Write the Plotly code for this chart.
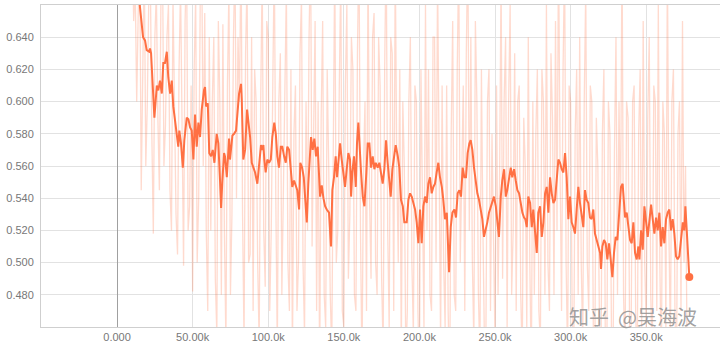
import plotly.graph_objects as go

# smoothed curve: steps in thousands, values
smooth_steps = [
    10.0, 11.2, 12.4, 13.5, 14.6, 15.7, 17.2, 18.5, 19.6, 21.2,
    21.8, 22.5, 24.0, 24.7, 26.3, 27.3, 28.4, 29.6, 30.6, 31.7,
    32.9, 33.9, 35.1, 36.2, 37.2, 38.4, 39.5, 40.5, 41.2, 42.3,
    43.5, 44.5, 46.1, 47.2, 48.3, 49.4, 50.5, 51.6, 52.7, 53.8,
    54.9, 56.0, 57.5, 58.2, 58.9, 60.0, 61.0, 62.2, 63.3, 64.4,
    65.9, 67.0, 68.1, 68.8, 69.6, 70.8, 71.4, 72.6, 74.1, 74.7,
    76.3, 77.4, 78.7, 79.8, 80.7, 82.0, 82.5, 83.5, 84.7, 86.0,
    86.8, 88.0, 89.1, 90.1, 91.3, 92.8, 94.1, 95.2, 96.1, 96.8,
    97.4, 98.3, 99.4, 100.5, 101.7, 102.7, 104.0, 105.0, 106.0, 107.1,
    108.3, 109.3, 110.5, 111.6, 112.6, 113.8, 114.9, 115.9, 117.1, 118.2,
    119.2, 120.4, 121.2, 122.4, 123.5, 124.5, 125.5, 126.5, 127.4, 128.3,
    129.4, 130.5, 131.6, 132.7, 134.3, 135.4, 136.5, 137.6, 138.7, 140.2,
    141.5, 142.4, 143.5, 144.6, 145.5, 146.4, 147.5, 148.6, 149.7, 150.8,
    151.9, 153.0, 154.1, 154.8, 155.6, 156.7, 157.9, 158.7, 159.6, 160.3,
    161.4, 162.5, 163.6, 164.9, 165.8, 166.9, 168.0, 169.1, 170.2, 171.1,
    172.4, 173.5, 174.6, 175.7, 176.8, 177.9, 179.0, 180.1, 181.0, 182.1,
    183.2, 184.3, 185.7, 186.7, 187.8, 189.0, 190.0, 191.6, 192.7, 193.8,
    194.9, 196.0, 197.1, 198.2, 199.3, 200.4, 201.5, 202.6, 203.7, 204.8,
    205.9, 207.0, 208.1, 209.2, 210.3, 211.4, 212.5, 213.6, 214.8, 215.8,
    216.9, 218.1, 219.1, 219.6, 220.7, 221.8, 223.1, 224.2, 225.3, 226.4,
    227.5, 228.6, 229.7, 230.8, 231.9, 233.0, 233.9, 235.0, 236.1, 237.2,
    238.3, 239.4, 240.5, 241.6, 242.7, 243.9, 244.9, 246.0, 247.2, 248.2,
    249.3, 250.5, 251.5, 252.6, 253.8, 254.8, 256.0, 257.1, 258.1, 259.3,
    260.4, 261.4, 262.6, 263.7, 264.8, 265.9, 267.0, 268.1, 269.2, 270.0,
    271.0, 272.0, 273.2, 274.3, 275.3, 276.5, 277.6, 278.6, 279.8, 280.9,
    282.0, 283.1, 284.2, 285.3, 286.4, 287.5, 288.6, 289.7, 290.8, 291.9,
    293.0, 294.1, 295.2, 296.3, 297.4, 298.5, 299.6, 300.7, 301.8, 302.9,
    304.0, 305.1, 306.2, 307.3, 308.4, 309.5, 310.6, 311.7, 312.8, 313.9,
    315.0, 316.1, 317.3, 318.3, 319.5, 320.1, 321.0, 322.1, 323.2, 324.3,
    325.4, 326.5, 327.6, 328.7, 329.8, 330.9, 332.0, 333.3, 334.4, 335.2,
    336.0, 337.1, 338.2, 339.3, 340.4, 341.5, 342.6, 343.7, 344.8, 345.5,
    346.6, 347.7, 348.8, 349.9, 351.0, 352.0, 353.2, 354.3, 355.4, 356.5,
    357.6, 358.7, 359.8, 360.9, 362.0, 363.1, 364.2, 365.3, 366.4, 367.5,
    368.6, 369.7, 370.8, 371.9, 373.0, 374.2, 375.2, 375.9, 376.8, 377.5,
    378.5,
]
smooth_values = [
    0.705, 0.690, 0.682, 0.674, 0.664, 0.658, 0.640, 0.638, 0.632, 0.631,
    0.633, 0.630, 0.601, 0.590, 0.610, 0.607, 0.613, 0.605, 0.624, 0.624,
    0.631, 0.615, 0.605, 0.613, 0.597, 0.587, 0.582, 0.572, 0.582, 0.574,
    0.559, 0.576, 0.590, 0.589, 0.584, 0.582, 0.564, 0.592, 0.572, 0.587,
    0.578, 0.595, 0.607, 0.609, 0.597, 0.599, 0.568, 0.566, 0.570, 0.562,
    0.580, 0.574, 0.551, 0.534, 0.550, 0.568, 0.566, 0.553, 0.577, 0.564,
    0.579, 0.580, 0.582, 0.593, 0.605, 0.611, 0.601, 0.564, 0.570, 0.595,
    0.589, 0.578, 0.562, 0.559, 0.556, 0.549, 0.562, 0.573, 0.570, 0.573,
    0.564, 0.556, 0.564, 0.562, 0.564, 0.578, 0.587, 0.580, 0.566, 0.559,
    0.572, 0.572, 0.566, 0.562, 0.572, 0.570, 0.558, 0.547, 0.551, 0.547,
    0.545, 0.533, 0.562, 0.559, 0.553, 0.539, 0.525, 0.549, 0.566, 0.578,
    0.570, 0.577, 0.566, 0.572, 0.541, 0.548, 0.540, 0.535, 0.533, 0.531,
    0.510, 0.545, 0.553, 0.566, 0.553, 0.564, 0.574, 0.564, 0.556, 0.547,
    0.558, 0.568, 0.564, 0.541, 0.556, 0.566, 0.547, 0.574, 0.587, 0.572,
    0.556, 0.541, 0.535, 0.556, 0.574, 0.574, 0.559, 0.566, 0.558, 0.562,
    0.559, 0.562, 0.556, 0.549, 0.558, 0.576, 0.562, 0.551, 0.541, 0.558,
    0.566, 0.573, 0.566, 0.559, 0.539, 0.535, 0.525, 0.525, 0.539, 0.543,
    0.541, 0.537, 0.533, 0.525, 0.512, 0.533, 0.512, 0.535, 0.541, 0.537,
    0.549, 0.553, 0.543, 0.547, 0.549, 0.556, 0.562, 0.553, 0.547, 0.539,
    0.527, 0.531, 0.510, 0.494, 0.522, 0.531, 0.533, 0.528, 0.543, 0.545,
    0.541, 0.559, 0.553, 0.553, 0.568, 0.574, 0.576, 0.570, 0.559, 0.551,
    0.543, 0.539, 0.533, 0.527, 0.516, 0.520, 0.525, 0.531, 0.535, 0.539,
    0.541, 0.535, 0.527, 0.516, 0.541, 0.551, 0.558, 0.541, 0.545, 0.553,
    0.559, 0.553, 0.558, 0.551, 0.545, 0.543, 0.537, 0.531, 0.528, 0.527,
    0.522, 0.541, 0.537, 0.522, 0.533, 0.518, 0.506, 0.531, 0.535, 0.516,
    0.525, 0.543, 0.547, 0.531, 0.553, 0.543, 0.537, 0.539, 0.551, 0.564,
    0.562, 0.558, 0.556, 0.568, 0.553, 0.527, 0.541, 0.525, 0.522, 0.518,
    0.533, 0.547, 0.537, 0.528, 0.522, 0.545, 0.539, 0.537, 0.528, 0.527,
    0.533, 0.518, 0.514, 0.510, 0.506, 0.496, 0.510, 0.514, 0.512, 0.502,
    0.512, 0.502, 0.491, 0.506, 0.516, 0.514, 0.528, 0.547, 0.549, 0.539,
    0.528, 0.531, 0.520, 0.514, 0.512, 0.525, 0.506, 0.502, 0.510, 0.502,
    0.520, 0.508, 0.535, 0.527, 0.516, 0.525, 0.536, 0.527, 0.518, 0.528,
    0.520, 0.531, 0.510, 0.522, 0.512, 0.527, 0.531, 0.533, 0.520, 0.527,
    0.518, 0.504, 0.502, 0.504, 0.514, 0.525, 0.520, 0.535, 0.520, 0.506,
    0.491,
]

# raw (unsmoothed) curve: logged every 1k steps from 10k to 378k
raw_steps = list(range(10, 379))
raw_values = [
    0.705, 0.650, 0.672, 0.600, 0.655, 0.690, 0.545, 0.640, 0.690, 0.560,
    0.598, 0.665, 0.680, 0.580, 0.518, 0.640, 0.668, 0.590, 0.545, 0.660,
    0.700, 0.560, 0.585, 0.640, 0.660, 0.545, 0.520, 0.665, 0.610, 0.530,
    0.505, 0.620, 0.672, 0.560, 0.498, 0.650, 0.690, 0.520, 0.535, 0.610,
    0.482, 0.620, 0.665, 0.500, 0.540, 0.660, 0.690, 0.560, 0.655, 0.520,
    0.470, 0.640, 0.520, 0.600, 0.640, 0.490, 0.455, 0.650, 0.600, 0.480,
    0.648, 0.520, 0.450, 0.610, 0.670, 0.480, 0.530, 0.640, 0.690, 0.540,
    0.640, 0.600, 0.700, 0.530, 0.450, 0.630, 0.675, 0.500, 0.505, 0.640,
    0.470, 0.620, 0.600, 0.500, 0.450, 0.600, 0.680, 0.520, 0.485, 0.650,
    0.640, 0.470, 0.520, 0.610, 0.690, 0.540, 0.445, 0.600, 0.630, 0.480,
    0.540, 0.600, 0.670, 0.500, 0.470, 0.620, 0.440, 0.580, 0.610, 0.470,
    0.500, 0.630, 0.665, 0.500, 0.455, 0.600, 0.520, 0.640, 0.700, 0.510,
    0.600, 0.650, 0.470, 0.600, 0.430, 0.590, 0.650, 0.480, 0.460, 0.620,
    0.560, 0.480, 0.445, 0.600, 0.690, 0.500, 0.520, 0.610, 0.680, 0.470,
    0.460, 0.610, 0.660, 0.490, 0.530, 0.640, 0.620, 0.480, 0.470, 0.630,
    0.700, 0.520, 0.435, 0.560, 0.600, 0.470, 0.690, 0.540, 0.490, 0.640,
    0.655, 0.500, 0.480, 0.640, 0.610, 0.490, 0.445, 0.620, 0.700, 0.520,
    0.460, 0.640, 0.630, 0.470, 0.690, 0.560, 0.500, 0.620, 0.440, 0.600,
    0.560, 0.440, 0.470, 0.600, 0.640, 0.500, 0.455, 0.610, 0.600, 0.470,
    0.430, 0.620, 0.540, 0.460, 0.660, 0.520, 0.620, 0.480, 0.470, 0.640,
    0.640, 0.500, 0.680, 0.560, 0.450, 0.610, 0.500, 0.460, 0.610, 0.470,
    0.420, 0.580, 0.650, 0.480, 0.470, 0.620, 0.690, 0.500, 0.560, 0.610,
    0.470, 0.630, 0.700, 0.520, 0.640, 0.500, 0.450, 0.650, 0.600, 0.480,
    0.440, 0.620, 0.520, 0.450, 0.460, 0.600, 0.620, 0.470, 0.580, 0.500,
    0.450, 0.610, 0.480, 0.550, 0.680, 0.490, 0.600, 0.640, 0.460, 0.600,
    0.660, 0.480, 0.520, 0.630, 0.470, 0.600, 0.610, 0.480, 0.440, 0.590,
    0.560, 0.460, 0.640, 0.500, 0.430, 0.600, 0.480, 0.580, 0.620, 0.470,
    0.450, 0.620, 0.600, 0.480, 0.660, 0.500, 0.470, 0.630, 0.590, 0.480,
    0.650, 0.520, 0.700, 0.560, 0.470, 0.620, 0.690, 0.500, 0.440, 0.610,
    0.600, 0.470, 0.430, 0.580, 0.620, 0.480, 0.640, 0.500, 0.450, 0.600,
    0.670, 0.500, 0.470, 0.610, 0.600, 0.460, 0.440, 0.590, 0.560, 0.470,
    0.420, 0.580, 0.620, 0.440, 0.450, 0.600, 0.580, 0.460, 0.430, 0.570,
    0.640, 0.480, 0.600, 0.520, 0.700, 0.480, 0.440, 0.600, 0.590, 0.460,
    0.450, 0.600, 0.610, 0.470, 0.430, 0.580, 0.620, 0.460, 0.650, 0.500,
    0.460, 0.590, 0.640, 0.480, 0.440, 0.610, 0.600, 0.470, 0.660, 0.500,
    0.430, 0.600, 0.580, 0.460, 0.690, 0.520, 0.450, 0.600, 0.620, 0.470,
    0.430, 0.580, 0.600, 0.470, 0.650, 0.500, 0.560, 0.450, 0.420,
]

x_tick_vals = [0, 50, 100, 150, 200, 250, 300, 350]
x_tick_text = ["0.000", "50.00k", "100.0k", "150.0k", "200.0k", "250.0k", "300.0k", "350.0k"]
y_tick_vals = [0.48, 0.50, 0.52, 0.54, 0.56, 0.58, 0.60, 0.62, 0.64]
y_tick_text = ["0.480", "0.500", "0.520", "0.540", "0.560", "0.580", "0.600", "0.620", "0.640"]

ORANGE = "#ff7043"

fig = go.Figure()
fig.add_trace(go.Scatter(
    x=raw_steps, y=raw_values, mode="lines",
    line=dict(color="rgba(255,112,67,0.26)", width=1.3),
    hoverinfo="skip",
))
fig.add_trace(go.Scatter(
    x=smooth_steps, y=smooth_values, mode="lines",
    line=dict(color=ORANGE, width=2),
))
fig.add_trace(go.Scatter(
    x=[smooth_steps[-1]], y=[smooth_values[-1]], mode="markers",
    marker=dict(color=ORANGE, size=8),
    cliponaxis=False,
))

axis_font = dict(family="Liberation Sans, Arial, sans-serif", size=11, color="#777777")

fig.update_layout(
    width=720, height=349,
    margin=dict(l=41, r=0, t=5, b=22),
    paper_bgcolor="white", plot_bgcolor="white",
    showlegend=False,
    xaxis=dict(
        range=[-50.3, 398.8], tickvals=x_tick_vals, ticktext=x_tick_text,
        showgrid=True, gridcolor="#e2e2e2", gridwidth=1,
        zeroline=True, zerolinecolor="#a0a0a0", zerolinewidth=1,
        showline=True, linecolor="#cfcfcf", linewidth=1, mirror=True,
        ticks="", tickfont=axis_font,
    ),
    yaxis=dict(
        range=[0.46, 0.66], tickvals=y_tick_vals, ticktext=y_tick_text,
        showgrid=True, gridcolor="#e2e2e2", gridwidth=1,
        zeroline=False,
        showline=True, linecolor="#cfcfcf", linewidth=1,
        ticks="", tickfont=axis_font, ticklabelstandoff=4,
    ),
    annotations=[dict(
        text="知乎  @吴海波", xref="paper", yref="paper",
        x=0.872, y=0.034, xanchor="center", yanchor="middle",
        showarrow=False,
        font=dict(family="Noto Sans CJK SC", size=20, color="rgba(150,150,150,0.9)"),
    )],
)

fig.write_html("out.html")
